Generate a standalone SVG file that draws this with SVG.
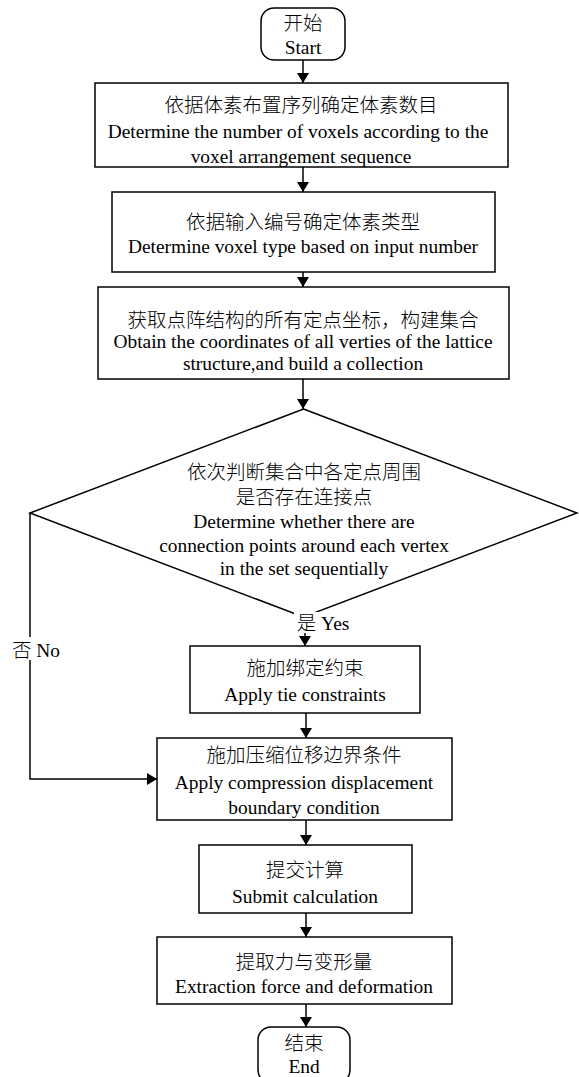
<svg xmlns="http://www.w3.org/2000/svg" width="579" height="1077" viewBox="0 0 579 1077">
<style>
.n{fill:#fff;stroke:#000;stroke-width:1.5}
.c{fill:none;stroke:#000;stroke-width:1.5}
text{font-family:"Liberation Serif","Noto Sans CJK SC",serif;font-size:19.4px;fill:#000;text-anchor:middle}
.z{font-size:19.5px;font-weight:300}
</style>
<defs>
<marker id="ah" markerWidth="10" markerHeight="12" refX="10" refY="6" orient="auto" markerUnits="userSpaceOnUse">
<path d="M0,0 L10,6 L0,12 Z" fill="#000"/>
</marker>
</defs>
<g id="connectors">
<path class="c" d="M303,60 V83" marker-end="url(#ah)"/>
<path class="c" d="M303,167 V192" marker-end="url(#ah)"/>
<path class="c" d="M303,272 V287" marker-end="url(#ah)"/>
<path class="c" d="M303,379 V409" marker-end="url(#ah)"/>
<path class="c" d="M305,617 V646" marker-end="url(#ah)"/>
<path class="c" d="M306,713 V738" marker-end="url(#ah)"/>
<path class="c" d="M30,513 V779 H157" marker-end="url(#ah)"/>
<path class="c" d="M306,820 V845" marker-end="url(#ah)"/>
<path class="c" d="M306,913 V937" marker-end="url(#ah)"/>
<path class="c" d="M306,1004 V1027" marker-end="url(#ah)"/>
</g>
<g id="start">
<rect class="n" x="261" y="8" width="84" height="52" rx="13"/>
<text class="z" x="303" y="30">开始</text>
<text x="303" y="54">Start</text>
</g>
<g id="step1">
<rect class="n" x="95" y="83" width="413" height="84"/>
<text class="z" x="301" y="112">依据体素布置序列确定体素数目</text>
<text x="298" y="138">Determine the number of voxels according to the</text>
<text x="301" y="163">voxel arrangement sequence</text>
</g>
<g id="step2">
<rect class="n" x="112" y="192" width="383" height="80"/>
<text class="z" x="303" y="229">依据输入编号确定体素类型</text>
<text x="303" y="253">Determine voxel type based on input number</text>
</g>
<g id="step3">
<rect class="n" x="98" y="287" width="411" height="92"/>
<text class="z" x="303" y="327">获取点阵结构的所有定点坐标，构建集合</text>
<text x="303" y="348">Obtain the coordinates of all verties of the lattice</text>
<text x="303" y="370">structure,and build a collection</text>
</g>
<g id="decision">
<polygon class="n" points="303.5,409 577,513 303.5,617 30,513"/>
<text class="z" x="304" y="479">依次判断集合中各定点周围</text>
<text class="z" x="304" y="504">是否存在连接点</text>
<text x="304" y="528">Determine whether there are</text>
<text x="304" y="552">connection points around each vertex</text>
<text x="304" y="575">in the set sequentially</text>
</g>
<g id="label-yes">
<rect x="294" y="612" width="60" height="21" fill="#fff"/>
<text x="323" y="630"><tspan class="z">是</tspan> Yes</text>
</g>
<g id="label-no">
<rect x="12" y="637" width="50" height="23" fill="#fff"/>
<text x="36" y="657"><tspan class="z">否</tspan> No</text>
</g>
<g id="step4">
<rect class="n" x="190" y="646" width="230" height="67"/>
<text class="z" x="305" y="675">施加绑定约束</text>
<text x="305" y="701">Apply tie constraints</text>
</g>
<g id="step5">
<rect class="n" x="157" y="738" width="295" height="82"/>
<text class="z" x="304" y="762">施加压缩位移边界条件</text>
<text x="304" y="789">Apply compression displacement</text>
<text x="304" y="814">boundary condition</text>
</g>
<g id="step6">
<rect class="n" x="199" y="845" width="213" height="68"/>
<text class="z" x="305" y="877">提交计算</text>
<text x="305" y="903">Submit calculation</text>
</g>
<g id="step7">
<rect class="n" x="157" y="937" width="295" height="67"/>
<text class="z" x="304" y="969">提取力与变形量</text>
<text x="304" y="993">Extraction force and deformation</text>
</g>
<g id="end">
<rect class="n" x="258" y="1027" width="92" height="56" rx="13"/>
<text class="z" x="304" y="1050">结束</text>
<text x="304" y="1073">End</text>
</g>
</svg>
